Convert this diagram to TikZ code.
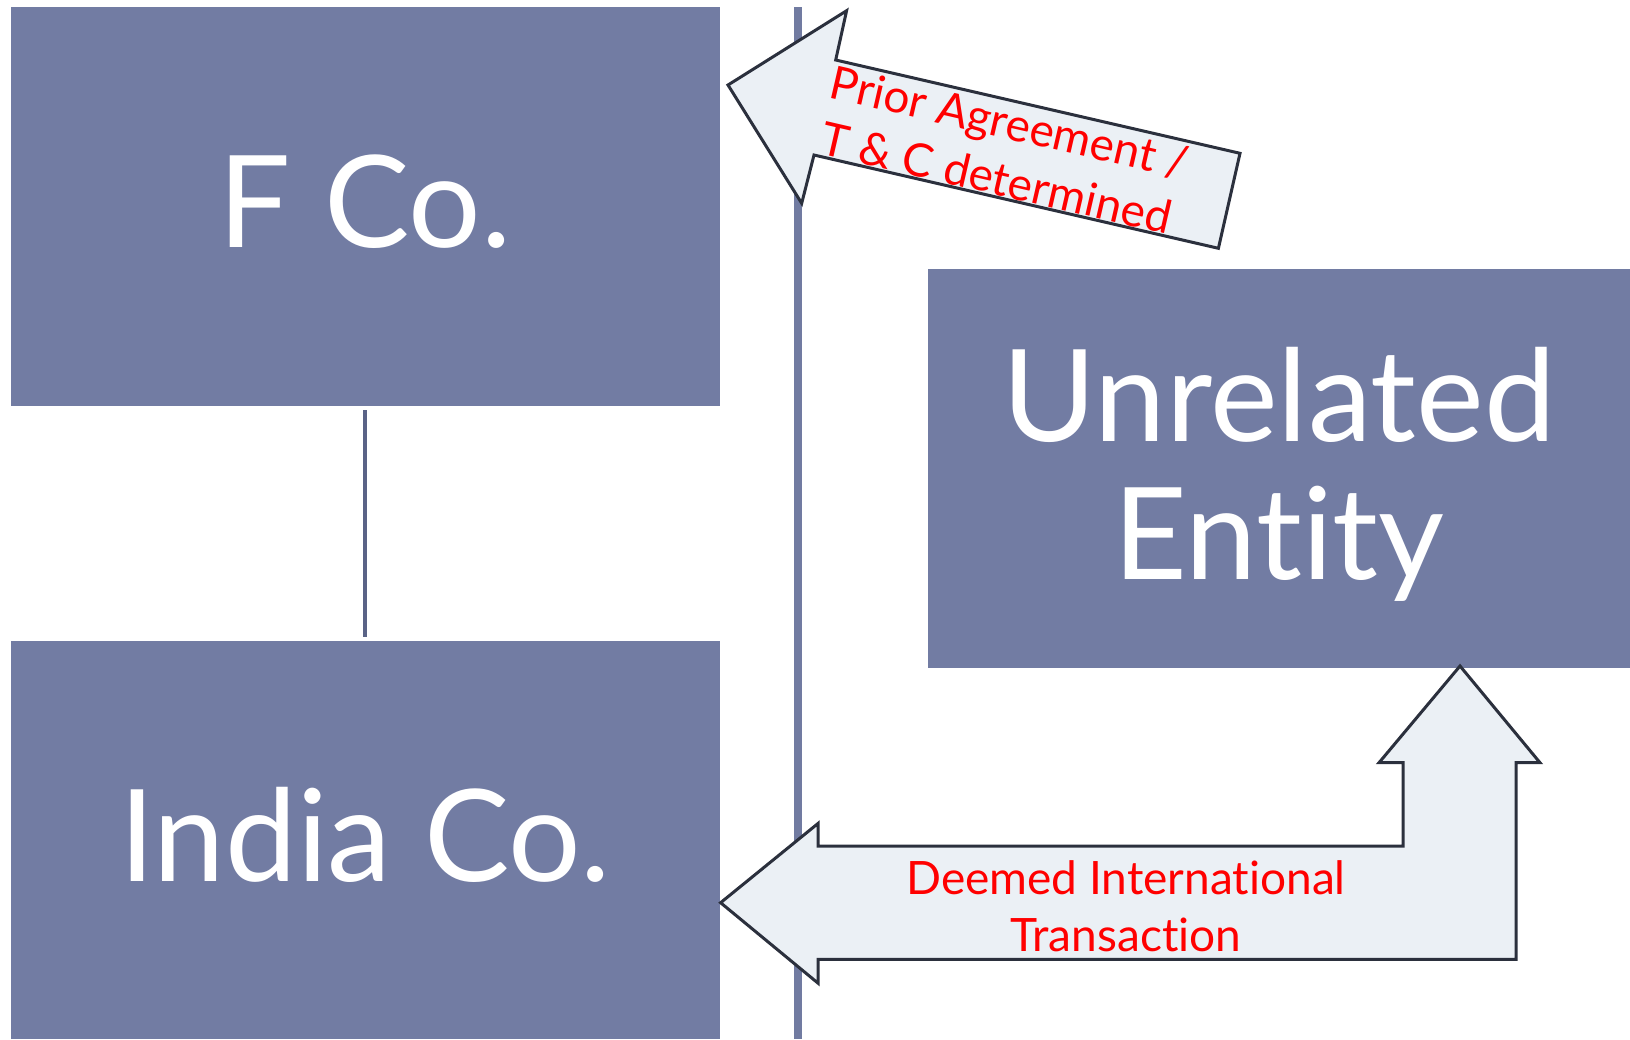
\documentclass[tikz,border=0pt]{standalone}
\usepackage{fontspec}
\setmainfont{Lato}[Ligatures=NoCommon]
\definecolor{boxblue}{HTML}{727CA3}
\definecolor{sepblue}{HTML}{717BA1}
\definecolor{linkgray}{HTML}{5A6386}
\definecolor{arrowfill}{HTML}{EBF0F5}
\definecolor{arrowline}{HTML}{2B303D}
\begin{document}
\begin{tikzpicture}[x=1pt,y=-1pt,
  entity/.style={fill=boxblue, text=white, inner sep=0pt, font=\fontsize{128}{138}\selectfont, align=center},
  blockarrow/.style={fill=arrowfill, draw=arrowline, line width=3pt, line join=miter},
  arrowlabel/.style={text=red, font=\fontsize{46}{57}\selectfont, align=center, inner sep=0pt},
  sepline/.style={draw=sepblue, line width=8pt},
  linkline/.style={draw=linkgray, line width=4pt}]
\useasboundingbox (0,0) rectangle (1630,1039);
% entities
\node[entity, minimum width=709pt, minimum height=399.3pt, text depth=10pt] (fco) at (365.05,206.35) {F Co.};
\node[entity, minimum width=709pt, minimum height=398.3pt, text depth=10pt] (india) at (365.05,839.85) {India Co.};
\node[entity, minimum width=702pt, minimum height=399pt] (unrel) at (1279,468.8) {\rule{0pt}{105pt}Unrelated\\Entity};
% link between F Co. and India Co.
\draw[linkline] ([yshift=-4pt]fco.south) -- ([yshift=4pt]india.north);
% separator
\coordinate (septop) at (798,7);
\coordinate (sepbot) at (798,1039);
\draw[sepline] (septop) -- (sepbot);
% top block arrow
\path[blockarrow] (728,85) -- (846.6,10.7) -- (835.7,60) -- (1240,153.3) -- (1218.4,248.3) -- (814,155) -- (801.7,203.3) -- cycle;
\node[arrowlabel, rotate=-13] (agree) at (1003,150) {Prior Agreement /\\T \& C determined};
% bottom bent block arrow
\path[blockarrow] (720.6,902.7) -- (818.2,823.3) -- (818.2,846) -- (1403,846) -- (1403,762.7) -- (1379,762.7) -- (1460,666) -- (1540,762.7) -- (1516,762.7) -- (1516,959.3) -- (818.2,959.3) -- (818.2,983.3) -- cycle;
\node[arrowlabel] (deemed) at (1126,906) {Deemed International\\Transaction};
\end{tikzpicture}
\end{document}
